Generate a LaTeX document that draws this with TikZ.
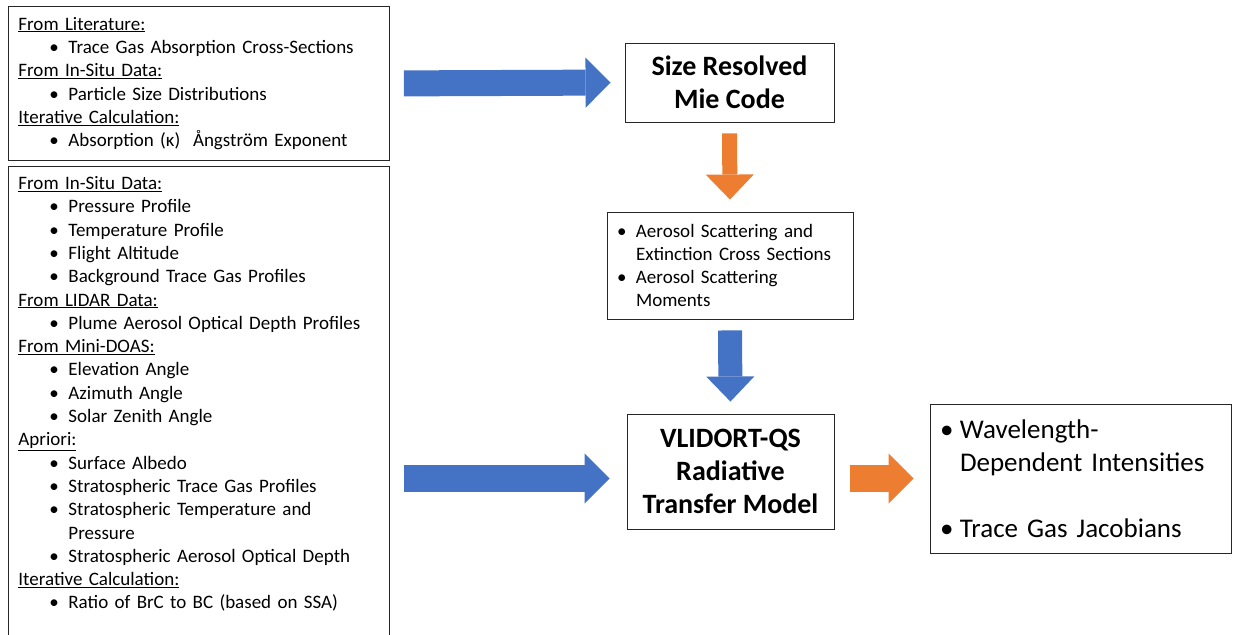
\documentclass[tikz,border=0pt]{standalone}
\usepackage{fontspec}
\setmainfont{Carlito}
\usetikzlibrary{arrows.meta,positioning}

\definecolor{msblue}{HTML}{4472C4}
\definecolor{msorange}{HTML}{ED7D31}

\newcommand{\hdr}[1]{\underline{#1}}
\newcommand{\itm}[1]{\hspace*{31pt}\makebox[19pt][l]{\textbullet}#1}

\tikzset{
  listbox/.style={draw=black!85, line width=0.9pt, inner xsep=10pt, align=left,
    font=\fontsize{19}{23.3}\selectfont},
  modelbox/.style={draw=black!85, line width=0.9pt, align=center,
    font=\bfseries\fontsize{28}{33}\selectfont},
  fatarrow/.style n args={3}{draw=#1, line width=#2,
    -{Triangle[width=#3, length=25pt, line width=0pt]}},
}

\begin{document}
\begin{tikzpicture}[x=1pt, y=1pt]
    \useasboundingbox (0,0) rectangle (1233,-634);
    \clip (0,0) rectangle (1233,-634);
    % input lists
    \node[listbox, anchor=north west, text width=361pt, minimum height=154pt] (lit) at (8,-6) {
      \hdr{From Literature:}\\
      \itm{Trace Gas Absorption Cross-Sections}\\
      \hdr{From In-Situ Data:}\\
      \itm{Particle Size Distributions}\\
      \hdr{Iterative Calculation:}\\
      \itm{Absorption (κ)\ \ Ångström Exponent}};
    \node[listbox, anchor=north west, text width=361pt, inner ysep=10pt] (insitu) at (8,-166) {
      \hdr{From In-Situ Data:}\\
      \itm{Pressure Profile}\\
      \itm{Temperature Profile}\\
      \itm{Flight Altitude}\\
      \itm{Background Trace Gas Profiles}\\
      \hdr{From LIDAR Data:}\\
      \itm{Plume Aerosol Optical Depth Profiles}\\
      \hdr{From Mini-DOAS:}\\
      \itm{Elevation Angle}\\
      \itm{Azimuth Angle}\\
      \itm{Solar Zenith Angle}\\
      \hdr{Apriori:}\\
      \itm{Surface Albedo}\\
      \itm{Stratospheric Trace Gas Profiles}\\
      \itm{Stratospheric Temperature and}\\
      \hspace*{50pt}Pressure\\
      \itm{Stratospheric Aerosol Optical Depth}\\
      \hdr{Iterative Calculation:}\\
      \itm{Ratio of BrC to BC (based on SSA)}\\[40pt]
      \mbox{}};
    % models
    \node[modelbox, minimum width=209pt, minimum height=79pt] (mie) at (729.5,-82.5) {Size Resolved\\Mie Code};
    \node[listbox, text width=226pt, minimum height=107pt] (mom) at (730,-265.5) {
      \makebox[19pt][l]{\textbullet}Aerosol Scattering and\\
      \hspace*{19pt}Extinction Cross Sections\\
      \makebox[19pt][l]{\textbullet}Aerosol Scattering\\
      \hspace*{19pt}Moments};
    \node[modelbox, minimum width=207pt, minimum height=115pt] (vlid) at (730.5,-471.5) {VLIDORT-QS\\Radiative\\Transfer Model};
    \node[listbox, text width=281pt, minimum height=149pt, font=\fontsize{27}{33}\selectfont] (out) at (1080.5,-478.5) {
      \makebox[20pt][l]{\textbullet}Wavelength-\\
      \hspace*{20pt}Dependent Intensities\\[33pt]
      \makebox[20pt][l]{\textbullet}Trace Gas Jacobians};
    % block arrows
    \draw[fatarrow={msblue}{26pt}{50pt}, shorten <=14pt, shorten >=14pt] (lit.east) -- (mie.west);
    \draw[fatarrow={msorange}{15pt}{48pt}, shorten <=11pt, shorten >=12pt] (mie.south) -- (mom.north);
    \draw[fatarrow={msblue}{24pt}{48pt}, shorten <=11pt, shorten >=12pt] (mom.south) -- (vlid.north);
    \draw[fatarrow={msblue}{27pt}{50pt}, shorten <=14pt, shorten >=17pt] (insitu.east |- out.west) -- (vlid.west |- out.west);
    \draw[fatarrow={msorange}{27pt}{50pt}, shorten <=16pt, shorten >=16pt] (vlid.east |- out.west) -- (out.west);
\end{tikzpicture}
\end{document}
